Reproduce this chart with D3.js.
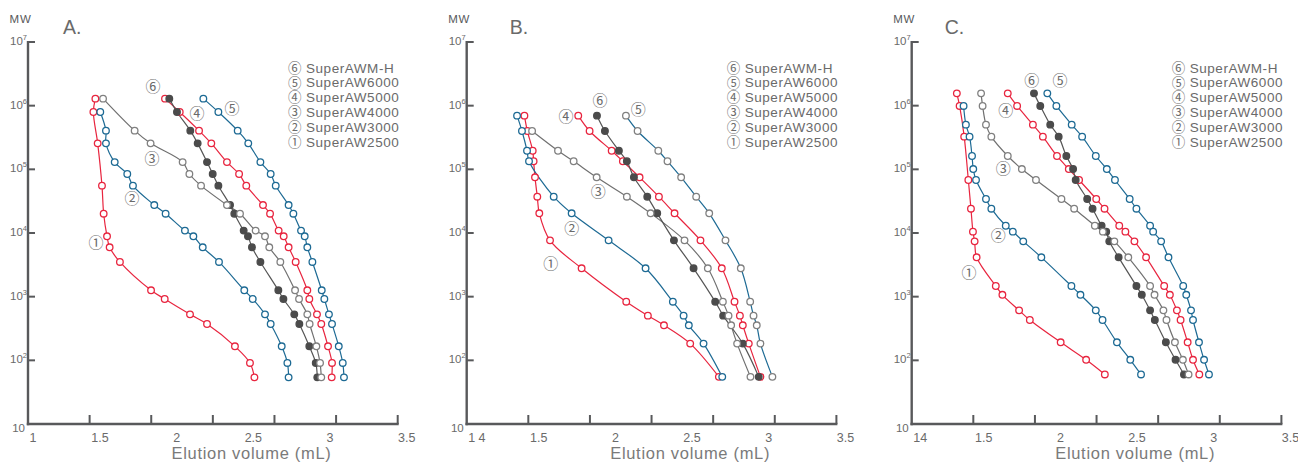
<!DOCTYPE html>
<html><head><meta charset="utf-8">
<script src="https://cdn.jsdelivr.net/npm/d3@7"></script>
<style>body{margin:0;background:#fff}svg{display:block}</style>
</head><body>
<svg id="chart" width="1298" height="463"></svg>
<script>
// ---------- data ----------
const seriesNames = ["SuperAW2500","SuperAW3000","SuperAW4000","SuperAW5000","SuperAW6000","SuperAWM-H"];
const circled = ["①","②","③","④","⑤","⑥"];
const xLabelValues = [1, 1.5, 2, 2.5, 3, 3.5];
const xTickLabelsA = ["1","1.5","2","2.5","3","3.5"];
const xTickLabelsB = ["1 4","1.5","2","2.5","3","3.5"];
const xTickLabelsC = ["14","1.5","2","2.5","3","3.5"];
const yTickExponents = [1,2,3,4,5,6,7];

// Panel A: molecular weight of standards and elution volume (mL) per column
const mwA = [1.29e6,7.96e5,4.05e5,2.56e5,1.30e5,8.45e4,5.54e4,2.75e4,2.01e4,1.09e4,8870,5960,3510,1260,919,528,372,166,91,54];
const aw2500A = [1.470,1.457,null,1.485,null,null,1.513,null,1.524,null,1.546,1.563,1.630,1.833,1.922,2.087,2.198,2.380,2.478,2.507];
const aw3000A = [null,1.502,1.539,1.539,1.596,1.678,1.715,1.854,1.928,2.054,2.109,2.170,2.276,2.441,2.496,2.576,2.613,2.685,2.722,2.730];
const aw4000A = [1.520,null,1.726,1.830,2.039,2.083,2.159,2.328,2.413,2.515,2.576,2.604,2.676,2.772,2.798,2.852,2.867,2.911,2.935,2.943];
const aw5000A = [1.924,2.020,2.146,2.226,2.328,2.407,2.454,2.563,2.609,2.665,2.698,2.730,2.776,2.852,2.865,2.915,2.943,2.987,3.013,3.011];
const aw6000A = [2.174,2.272,2.398,2.467,2.546,2.613,2.646,2.730,2.761,2.811,2.835,2.852,2.885,2.946,2.963,2.993,3.013,3.057,3.083,3.091];
const awmhA   = [1.952,2.002,2.089,2.137,2.198,2.235,2.272,2.348,2.376,2.437,2.465,2.491,2.546,2.663,2.696,2.767,2.800,2.865,2.907,2.917];

// Panel B
const mwB = [6.97e5,4.00e5,1.96e5,1.34e5,7.49e4,3.72e4,2.04e4,7670,2790,834,503,355,183,55];
const aw2500B = [1.407,1.426,1.461,1.467,1.476,1.491,1.504,1.574,1.780,2.071,2.212,2.317,2.488,2.675];
const aw3000B = [1.359,1.391,1.424,1.437,null,1.598,1.715,1.956,2.197,2.375,2.445,2.479,2.575,2.697];
const aw4000B = [null,1.457,1.626,1.728,1.878,2.075,2.230,2.451,2.603,2.701,2.738,2.755,2.794,2.881];
const aw5000B = [1.758,1.832,1.976,2.049,2.158,2.284,2.386,2.555,2.694,2.777,2.812,2.831,2.870,2.946];
const aw6000B = [2.069,2.145,2.280,2.340,2.429,2.527,2.612,2.718,2.818,2.879,2.901,2.922,2.946,3.024];
const awmhB   = [1.880,1.932,2.023,2.075,2.121,2.208,2.273,2.382,2.510,2.651,2.703,null,2.831,2.935];

// Panel C
const mwC = [1.56e6,9.89e5,5.03e5,3.26e5,1.62e5,1.01e5,6.80e4,3.42e4,2.41e4,1.30e4,1.05e4,7400,4150,1470,1070,610,430,192,102,60];
const aw2500C = [1.325,1.343,null,1.373,null,null,1.400,null,1.417,null,1.430,1.441,1.454,1.579,1.622,1.731,1.801,2.002,2.168,2.290];
const aw3000C = [null,1.369,1.384,1.408,1.424,1.432,1.450,1.515,1.550,1.644,1.690,1.758,1.876,2.072,2.131,2.231,2.275,2.369,2.456,2.526];
const aw4000C = [1.483,1.493,1.515,1.550,1.657,1.749,1.841,2.007,2.090,2.225,2.277,2.352,2.443,2.585,2.614,2.672,2.692,2.747,2.799,2.836];
const aw5000C = [1.657,1.718,1.821,1.886,1.978,2.055,2.122,2.234,2.288,2.384,2.424,2.483,2.559,2.677,2.714,2.760,2.784,2.830,2.865,2.906];
const aw6000C = [1.915,1.974,2.074,2.142,2.231,2.303,2.356,2.452,2.496,2.585,2.605,2.657,2.705,2.801,2.821,2.852,2.865,2.904,2.937,2.969];
const awmhC   = [1.828,1.869,1.934,1.989,2.039,2.083,2.100,2.175,2.210,2.269,2.299,2.319,2.380,2.496,2.531,2.585,2.616,2.688,2.751,2.806];

// ---------- styles / layout ----------
const RED = "#e8253f", BLUE = "#1d6a94", GREY = "#808080", DARK = "#4b4b4b", AXIS = "#58595b", TXT = "#6a6a6a";
const lineColors   = [RED, BLUE, "#707070", RED, BLUE, "#555555"];
const markerStroke = [RED, BLUE, GREY, RED, BLUE, DARK];
const markerFill   = ["#fff","#fff","#fff","#fff","#fff",DARK];

const panels = [
  {title:"A.", ox:28, titleDx:35, mw:mwA, labels:xTickLabelsA, vols:[aw2500A,aw3000A,aw4000A,aw5000A,aw6000A,awmhA],
   marker5:BLUE, ann:[[68,243],[104,199],[124,159],[169,114],[204,109],[125,87]]},
  {title:"B.", ox:466.7, titleDx:43, mw:mwB, labels:xTickLabelsB, vols:[aw2500B,aw3000B,aw4000B,aw5000B,aw6000B,awmhB],
   marker5:GREY, ann:[[84,264],[105,229],[131.6,191.7],[99.3,116.7],[171.6,110],[133.3,101]]},
  {title:"C.", ox:911.7, titleDx:33, mw:mwC, labels:xTickLabelsC, vols:[aw2500C,aw3000C,aw4000C,aw5000C,aw6000C,awmhC],
   marker5:BLUE, ann:[[57.3,272.7],[86.6,236],[91.6,168.3],[94,111],[148.3,81],[120,81]]}
];

const svg = d3.select("#chart");
const yTop = 42, yBot = 424;
const FONT = "'Liberation Sans', Arial, sans-serif";
const SYM = "'Noto Sans CJK JP', 'DejaVu Sans', sans-serif";

panels.forEach(p => {
  const ox = p.ox;
  const x = d3.scaleLinear().domain([1, 3.5]).range([ox - 4.7, ox + 378.7]);
  const y = d3.scaleLog().domain([10, 1e7]).range([yBot, yTop]);
  const tickX = d3.scaleLinear().domain([0, 6]).range([ox, ox + 369.7]);
  const g = svg.append("g");

  // axes
  g.append("line").attr("x1", ox).attr("x2", ox).attr("y1", yTop - 1).attr("y2", yBot + 1.2)
    .attr("stroke", AXIS).attr("stroke-width", 2.4);
  g.append("line").attr("x1", ox - 1.2).attr("x2", tickX(6) + 1).attr("y1", yBot).attr("y2", yBot)
    .attr("stroke", AXIS).attr("stroke-width", 2.4);
  // y ticks (inward)
  yTickExponents.filter(e => e > 1).forEach(e => {
    g.append("line").attr("x1", ox).attr("x2", ox + 7).attr("y1", y(Math.pow(10, e))).attr("y2", y(Math.pow(10, e)))
      .attr("stroke", AXIS).attr("stroke-width", 2);
  });
  // x ticks (inward)
  d3.range(1, 7).forEach(i => {
    g.append("line").attr("x1", tickX(i)).attr("x2", tickX(i)).attr("y1", yBot).attr("y2", yBot - 9)
      .attr("stroke", AXIS).attr("stroke-width", 2);
  });
  // y tick labels
  yTickExponents.forEach(e => {
    const t = g.append("text").attr("font-family", FONT).attr("font-size", 11.5).attr("fill", TXT)
      .attr("text-anchor", "end");
    if (e === 1) {
      t.attr("x", ox - 3).attr("y", 432).text("10");
    } else {
      t.attr("x", ox - 1).attr("y", y(Math.pow(10, e)) + 3);
      t.append("tspan").text("10");
      t.append("tspan").attr("font-size", 7.5).attr("dy", -5).text(e);
    }
  });
  // x tick labels
  xLabelValues.forEach((v, i) => {
    const t = g.append("text").attr("font-family", FONT).attr("font-size", 12.5).attr("fill", TXT)
      .attr("y", 441.5).text(p.labels[i]);
    if (i === 0) t.attr("x", ox + 1.5).attr("text-anchor", "start");
    else t.attr("x", x(v)).attr("text-anchor", "middle");
  });
  // axis titles
  g.append("text").attr("x", ox + 223.5).attr("y", 459).attr("text-anchor", "middle")
    .attr("font-family", FONT).attr("font-size", 16.5).attr("letter-spacing", 0.7).attr("fill", "#7a7a7a")
    .text("Elution volume (mL)");
  g.append("text").attr("x", ox - 18.5).attr("y", 22.7).attr("font-family", FONT).attr("font-size", 11.5)
    .attr("letter-spacing", 0.8).attr("fill", AXIS).text("MW");
  g.append("text").attr("x", ox + p.titleDx).attr("y", 34.3).attr("font-family", FONT).attr("font-size", 19.5)
    .attr("fill", TXT).text(p.title);

  // legend
  const legendRows = [5,4,3,2,1,0];
  legendRows.forEach((si, r) => {
    const yy = 67.7 + r * 14.8;
    g.append("text").attr("x", ox + 260).attr("y", yy + 5).attr("font-family", SYM).attr("font-size", 13.5)
      .attr("fill", TXT).text(circled[si]);
    g.append("text").attr("x", ox + 278).attr("y", yy + 4.8).attr("font-family", FONT).attr("font-size", 13.5)
      .attr("letter-spacing", 0.55).attr("fill", TXT).text(seriesNames[si]);
  });

  // curve annotations
  p.ann.forEach((a, si) => {
    g.append("text").attr("x", ox + a[0]).attr("y", a[1] + 5.2).attr("text-anchor", "middle")
      .attr("font-family", SYM).attr("font-size", 15).attr("fill", TXT).text(circled[si]);
  });

  // series lines
  const line = d3.line().x(d => x(d.v)).y(d => y(d.mw)).curve(d3.curveCatmullRom.alpha(0.5));
  const seriesPts = p.vols.map(arr => arr.map((v, i) => ({v, mw: p.mw[i]})).filter(d => d.v !== null));
  seriesPts.forEach((pts, si) => {
    g.append("path").attr("d", line(pts)).attr("fill", "none")
      .attr("stroke", lineColors[si]).attr("stroke-width", 1.2);
  });
  // markers
  [0,1,3,4,5,2].forEach(si => {
    const stroke = si === 4 ? p.marker5 : markerStroke[si];
    g.append("g").selectAll("circle").data(seriesPts[si]).join("circle")
      .attr("cx", d => x(d.v)).attr("cy", d => y(d.mw)).attr("r", 3.3)
      .attr("fill", markerFill[si]).attr("stroke", stroke).attr("stroke-width", 1.3);
  });
});
</script>
</body></html>
